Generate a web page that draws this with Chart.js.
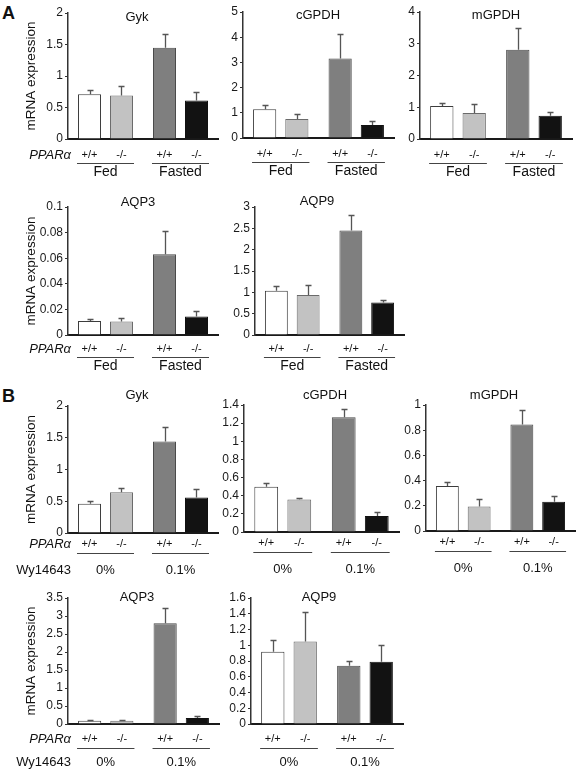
<!DOCTYPE html>
<html>
<head>
<meta charset="utf-8">
<script src="https://cdn.jsdelivr.net/npm/chart.js@4.4.0/dist/chart.umd.min.js"></script>
<style>
  body { margin: 0; width: 586px; height: 784px; position: relative; overflow: hidden; background: #fff;
         font-family: "Liberation Sans", Arial, sans-serif; }
  .letter { position: absolute; font-weight: bold; font-size: 18px; line-height: 18px; color: #111; }
</style>
</head>
<body>
<div class="letter" style="left:2px;top:4px">A</div>
<div class="letter" style="left:2px;top:387px">B</div>
<script>
const FONT = '"Liberation Sans", Arial, Helvetica, sans-serif'
Chart.defaults.font.family = FONT
Chart.defaults.color = '#222'

const genotypes = ['+/+', '-/-']
const dietGroups = ['Fed', 'Fasted']
const drugGroups = ['0%', '0.1%']

// bar order everywhere: group1 +/+, group1 -/-, group2 +/+, group2 -/-
// *Err = length of the error bar above the mean
const aGykMean = [0.71, 0.69, 1.45, 0.61]
const aGykErr = [0.07, 0.15, 0.22, 0.14]
const aGykTicks = [0, 0.5, 1, 1.5, 2]

const aCgpdhMean = [1.14, 0.75, 3.15, 0.52]
const aCgpdhErr = [0.17, 0.22, 0.98, 0.14]
const aCgpdhTicks = [0, 1, 2, 3, 4, 5]

const aMgpdhMean = [1.04, 0.82, 2.81, 0.73]
const aMgpdhErr = [0.09, 0.27, 0.68, 0.12]
const aMgpdhTicks = [0, 1, 2, 3, 4]

const aAqp3Mean = [0.011, 0.0105, 0.063, 0.0145]
const aAqp3Err = [0.0015, 0.0025, 0.018, 0.0043]
const aAqp3Ticks = [0, 0.02, 0.04, 0.06, 0.08, 0.1]

const aAqp9Mean = [1.04, 0.94, 2.45, 0.76]
const aAqp9Err = [0.12, 0.23, 0.36, 0.07]
const aAqp9Ticks = [0, 0.5, 1, 1.5, 2, 2.5, 3]

const bGykMean = [0.46, 0.64, 1.44, 0.56]
const bGykErr = [0.045, 0.075, 0.23, 0.14]
const bGykTicks = [0, 0.5, 1, 1.5, 2]

const bCgpdhMean = [0.5, 0.357, 1.265, 0.177]
const bCgpdhErr = [0.045, 0.018, 0.095, 0.048]
const bCgpdhTicks = [0, 0.2, 0.4, 0.6, 0.8, 1, 1.2, 1.4]

const bMgpdhMean = [0.358, 0.194, 0.846, 0.233]
const bMgpdhErr = [0.027, 0.063, 0.117, 0.048]
const bMgpdhTicks = [0, 0.2, 0.4, 0.6, 0.8, 1]

const bAqp3Mean = [0.09, 0.09, 2.8, 0.17]
const bAqp3Err = [0.01, 0.01, 0.41, 0.05]
const bAqp3Ticks = [0, 0.5, 1, 1.5, 2, 2.5, 3, 3.5]

const bAqp9Mean = [0.917, 1.048, 0.739, 0.789]
const bAqp9Err = [0.148, 0.37, 0.059, 0.217]
const bAqp9Ticks = [0, 0.2, 0.4, 0.6, 0.8, 1, 1.2, 1.4, 1.6]

const barFill = ['#ffffff', '#c2c2c2', '#7f7f7f', '#121212']
const barEdge = ['#3c3c3c', '#6a6a6a', '#4a4a4a', '#111111']

// rows of labels under the plots: offsets below the zero line
const rowA1 = { tickDy: 16, lineDy: 24, groupDy: 33 }
const rowA2 = { tickDy: 14, lineDy: 22, groupDy: 31 }
const rowB1 = { tickDy: 11, lineDy: 20, groupDy: 37 }
const rowB2 = { tickDy: 15, lineDy: 24, groupDy: 38 }

function decorate (spec) {
  return {
    id: 'decorate',
    afterDatasetsDraw (chart) {
      const { ctx, chartArea: area } = chart
      const y = chart.scales.y
      const x = chart.scales.x
      const row = spec.row
      ctx.save()

      // error bars, upper half only
      ctx.strokeStyle = '#555'
      ctx.lineWidth = 1.3
      chart.data.datasets.forEach((ds, d) => {
        chart.getDatasetMeta(d).data.forEach((bar, i) => {
          const top = Math.round(y.getPixelForValue(ds.data[i] + ds.err[i])) + 0.5
          const cx = Math.round(bar.x) + 0.5
          ctx.beginPath()
          ctx.moveTo(cx, bar.y)
          ctx.lineTo(cx, top)
          ctx.moveTo(cx - 3, top)
          ctx.lineTo(cx + 3, top)
          ctx.stroke()
        })
      })

      // title
      ctx.fillStyle = '#111'
      ctx.textAlign = 'center'
      ctx.textBaseline = 'middle'
      ctx.font = '13px ' + FONT
      ctx.fillText(spec.title, area.left + spec.titleDx, area.top + spec.titleDy)

      // genotype under every bar
      ctx.font = '11px ' + FONT
      chart.data.datasets.forEach((ds, d) => {
        chart.getDatasetMeta(d).data.forEach(bar => {
          ctx.fillText(ds.label, bar.x, area.bottom + row.tickDy)
        })
      })

      // group underline and name
      const wt = chart.getDatasetMeta(0).data
      const ko = chart.getDatasetMeta(1).data
      ctx.strokeStyle = '#444'
      ctx.lineWidth = 1
      ctx.font = spec.groupFont + 'px ' + FONT
      spec.groups.forEach((g, i) => {
        const x0 = wt[i].x - wt[i].width / 2 - 1
        const x1 = ko[i].x + ko[i].width / 2 + 1
        const ly = Math.round(area.bottom + row.lineDy) + 0.5
        ctx.beginPath()
        ctx.moveTo(x0, ly)
        ctx.lineTo(x1, ly)
        ctx.stroke()
        ctx.fillText(g, x.getPixelForValue(i), area.bottom + row.groupDy)
      })

      if (spec.yTitle) {
        ctx.save()
        ctx.translate(area.left - 37, (area.top + area.bottom) / 2)
        ctx.rotate(-Math.PI / 2)
        ctx.font = '13.5px ' + FONT
        ctx.fillText('mRNA expression', 0, 0)
        ctx.restore()

        ctx.textAlign = 'right'
        ctx.font = 'italic 13px ' + FONT
        ctx.fillText('PPARα', area.left + 3, area.bottom + row.tickDy)
        if (spec.drug) {
          ctx.font = '13px ' + FONT
          ctx.fillText('Wy14643', area.left + 3, area.bottom + row.groupDy)
        }
      }
      ctx.restore()
    }
  }
}

function drawChart (spec) {
  const padTop = 24, padBottom = 48, padRight = 4
  const width = spec.axisW + spec.plotW + padRight
  const height = padTop + spec.plotH + padBottom
  const canvas = document.createElement('canvas')
  canvas.width = width
  canvas.height = height
  canvas.style.cssText = 'position:absolute;left:' + (spec.axisX - spec.axisW) + 'px;top:' +
    (spec.yTop - padTop) + 'px;width:' + width + 'px;height:' + height + 'px'
  document.body.appendChild(canvas)

  const { mean, err, ticks } = spec
  const datasets = genotypes.map((g, k) => ({
    label: g,
    data: [mean[k], mean[k + 2]],
    err: [err[k], err[k + 2]],
    backgroundColor: [barFill[k], barFill[k + 2]],
    borderColor: [barEdge[k], barEdge[k + 2]],
    borderWidth: 1,
    barPercentage: 0.72,
    categoryPercentage: 0.853
  }))

  new Chart(canvas, {
    type: 'bar',
    data: { labels: spec.groups, datasets },
    options: {
      responsive: false,
      animation: false,
      devicePixelRatio: 1,
      layout: { padding: { top: padTop, bottom: padBottom, left: 0, right: padRight } },
      plugins: { legend: { display: false }, tooltip: { enabled: false } },
      scales: {
        x: {
          grid: { display: false, drawTicks: false },
          ticks: { display: false },
          border: { display: true, color: '#1a1a1a', width: 2 }
        },
        y: {
          min: 0,
          max: ticks[ticks.length - 1],
          afterBuildTicks: s => { s.ticks = ticks.map(v => ({ value: v })) },
          afterFit: s => { s.width = spec.axisW },
          grid: { display: true, drawOnChartArea: false, drawTicks: true, tickLength: 3, color: '#333' },
          border: { display: true, color: '#333', width: 1.5 },
          ticks: {
            font: { size: 12 },
            color: '#1a1a1a',
            padding: 2,
            autoSkip: false,
            callback: v => String(+(+v).toFixed(3))
          }
        }
      }
    },
    plugins: [decorate(spec)]
  })
}

drawChart({ title: 'Gyk', mean: aGykMean, err: aGykErr, ticks: aGykTicks, groups: dietGroups, row: rowA1,
  axisX: 68, axisW: 68, yTop: 13, plotH: 126, plotW: 150, titleDx: 69, titleDy: 4, groupFont: 14, yTitle: true })
drawChart({ title: 'cGPDH', mean: aCgpdhMean, err: aCgpdhErr, ticks: aCgpdhTicks, groups: dietGroups, row: rowA1,
  axisX: 243, axisW: 36, yTop: 12, plotH: 126, plotW: 151, titleDx: 75, titleDy: 3, groupFont: 14 })
drawChart({ title: 'mGPDH', mean: aMgpdhMean, err: aMgpdhErr, ticks: aMgpdhTicks, groups: dietGroups, row: rowA1,
  axisX: 420, axisW: 36, yTop: 12, plotH: 127, plotW: 152, titleDx: 76, titleDy: 3, groupFont: 14 })
drawChart({ title: 'AQP3', mean: aAqp3Mean, err: aAqp3Err, ticks: aAqp3Ticks, groups: dietGroups, row: rowA2,
  axisX: 68, axisW: 68, yTop: 207, plotH: 128, plotW: 150, titleDx: 70, titleDy: -5, groupFont: 14, yTitle: true })
drawChart({ title: 'AQP9', mean: aAqp9Mean, err: aAqp9Err, ticks: aAqp9Ticks, groups: dietGroups, row: rowA2,
  axisX: 255, axisW: 36, yTop: 207, plotH: 128, plotW: 149, titleDx: 62, titleDy: -6, groupFont: 14 })

drawChart({ title: 'Gyk', mean: bGykMean, err: bGykErr, ticks: bGykTicks, groups: drugGroups, row: rowB1,
  axisX: 68, axisW: 68, yTop: 406, plotH: 127, plotW: 150, titleDx: 69, titleDy: -11, groupFont: 13, yTitle: true, drug: true })
drawChart({ title: 'cGPDH', mean: bCgpdhMean, err: bCgpdhErr, ticks: bCgpdhTicks, groups: drugGroups, row: rowB1,
  axisX: 244, axisW: 36, yTop: 405, plotH: 127, plotW: 155, titleDx: 81, titleDy: -10, groupFont: 13 })
drawChart({ title: 'mGPDH', mean: bMgpdhMean, err: bMgpdhErr, ticks: bMgpdhTicks, groups: drugGroups, row: rowB1,
  axisX: 426, axisW: 36, yTop: 405, plotH: 126, plotW: 149, titleDx: 68, titleDy: -10, groupFont: 13 })
drawChart({ title: 'AQP3', mean: bAqp3Mean, err: bAqp3Err, ticks: bAqp3Ticks, groups: drugGroups, row: rowB2,
  axisX: 68, axisW: 68, yTop: 598, plotH: 126, plotW: 151, titleDx: 69, titleDy: -1, groupFont: 13, yTitle: true, drug: true })
drawChart({ title: 'AQP9', mean: bAqp9Mean, err: bAqp9Err, ticks: bAqp9Ticks, groups: drugGroups, row: rowB2,
  axisX: 251, axisW: 36, yTop: 598, plotH: 126, plotW: 152, titleDx: 68, titleDy: -1, groupFont: 13 })
</script>
</body>
</html>
